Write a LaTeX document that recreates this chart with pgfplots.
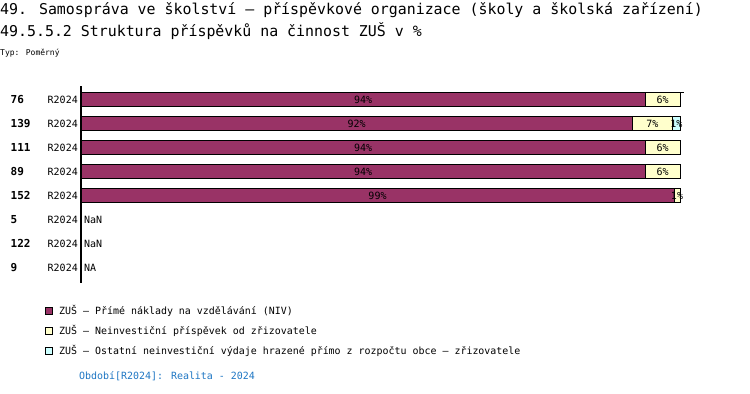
\documentclass[border=0pt]{standalone}
\usepackage{pgfplots}
\pgfplotsset{compat=1.18}
\usepackage{pgfplotstable}
\usepackage{fontspec}
\setmainfont{DejaVu Sans Mono}
\setmonofont{DejaVu Sans Mono}
\definecolor{cA}{HTML}{993366}
\definecolor{cB}{HTML}{FFFFCC}
\definecolor{cC}{HTML}{CCFFFF}
\definecolor{cBlue}{HTML}{1F77C4}

\pgfplotstableread{
y a b c
0 94.2 5.8 0
1 92.0 6.8 1.2
2 94.2 5.8 0
3 94.2 5.8 0
4 99.0 1.0 0
}\bars

\pgfplotstableread{
x y lab
47.1 0 94
97.1 0 6
46.0 1 92
95.4 1 7
99.4 1 1
47.1 2 94
97.1 2 6
47.1 3 94
97.1 3 6
49.5 4 99
99.5 4 1
}\labs

\pgfplotsset{myaxis/.style={
  scale only axis, width=603bp, height=197bp,
  at={(81bp,-283bp)}, anchor=south west,
  xmin=0, xmax=100.668, ymin=-0.5625, ymax=7.646, y dir=reverse,
}}

\begin{document}
\begin{tikzpicture}
\path[use as bounding box, fill=white] (0,0) rectangle (750bp,-394bp);
\node[anchor=base west, inner sep=0pt, font=\fontsize{14.9bp}{17bp}\selectfont] at (0bp,-14bp)
  {49. Samospráva ve školství – příspěvkové organizace (školy a školská zařízení)};
\node[anchor=base west, inner sep=0pt, font=\fontsize{14.9bp}{17bp}\selectfont] at (0bp,-36bp)
  {49.5.5.2 Struktura příspěvků na činnost ZUŠ v \%};
\node[anchor=base west, inner sep=0pt, font=\fontsize{8bp}{9bp}\selectfont] at (0bp,-55bp)
  {Typ: Poměrný};

\begin{axis}[myaxis,
  xbar stacked, bar width=14bp,
  axis x line=none,
  axis y line*=left,
  y axis line style={line width=2bp, -},
  ytick={0,...,7},
  yticklabels={
    {\makebox[37bp][l]{\bfseries\fontsize{11bp}{12bp}\selectfont 76}R2024},
    {\makebox[37bp][l]{\bfseries\fontsize{11bp}{12bp}\selectfont 139}R2024},
    {\makebox[37bp][l]{\bfseries\fontsize{11bp}{12bp}\selectfont 111}R2024},
    {\makebox[37bp][l]{\bfseries\fontsize{11bp}{12bp}\selectfont 89}R2024},
    {\makebox[37bp][l]{\bfseries\fontsize{11bp}{12bp}\selectfont 152}R2024},
    {\makebox[37bp][l]{\bfseries\fontsize{11bp}{12bp}\selectfont 5}R2024},
    {\makebox[37bp][l]{\bfseries\fontsize{11bp}{12bp}\selectfont 122}R2024},
    {\makebox[37bp][l]{\bfseries\fontsize{11bp}{12bp}\selectfont 9}R2024}},
  major tick length=0pt,
  yticklabel style={font=\fontsize{10bp}{12bp}\selectfont, inner sep=0pt, anchor=east, xshift=-3bp},
]
\addplot[fill=cA, draw=black, line width=1bp] table[x=a, y=y] {\bars};
\addplot[fill=cB, draw=black, line width=1bp] table[x=b, y=y] {\bars};
\addplot[fill=cC, draw=black, line width=1bp] table[x=c, y=y] {\bars};
\draw[line width=1bp] (axis cs:0,-0.3125) -- (axis cs:100.668,-0.3125);
\node[anchor=west, inner sep=0pt, font=\fontsize{10bp}{12bp}\selectfont] at (axis cs:0.5,5) {NaN};
\node[anchor=west, inner sep=0pt, font=\fontsize{10bp}{12bp}\selectfont] at (axis cs:0.5,6) {NaN};
\node[anchor=west, inner sep=0pt, font=\fontsize{10bp}{12bp}\selectfont] at (axis cs:0.5,7) {NA};
\end{axis}

\begin{axis}[myaxis, hide axis]
\addplot[draw=none, mark=none, nodes near coords={\pgfplotspointmeta\%},
  point meta=explicit symbolic,
  every node near coord/.append style={anchor=center, inner sep=0pt, font=\fontsize{10bp}{12bp}\selectfont, text=black}]
  table[x=x, y=y, meta=lab] {\labs};
\end{axis}

% legend
\begin{scope}[every node/.style={anchor=west, inner sep=0pt, font=\fontsize{9.95bp}{11bp}\selectfont}]
\draw[fill=cA, line width=0.8bp] (45.5bp,-307.5bp) rectangle (52.5bp,-314.5bp);
\node at (59bp,-311bp) {ZUŠ – Přímé náklady na vzdělávání (NIV)};
\draw[fill=cB, line width=0.8bp] (45.5bp,-327.5bp) rectangle (52.5bp,-334.5bp);
\node at (59bp,-331bp) {ZUŠ – Neinvestiční příspěvek od zřizovatele};
\draw[fill=cC, line width=0.8bp] (45.5bp,-347.5bp) rectangle (52.5bp,-354.5bp);
\node at (59bp,-351bp) {ZUŠ – Ostatní neinvestiční výdaje hrazené přímo z rozpočtu obce – zřizovatele};
\end{scope}

\node[anchor=west, inner sep=0pt, text=cBlue, font=\fontsize{9.95bp}{11bp}\selectfont] at (79bp,-376bp)
  {Období[R2024]: Realita - 2024};
\end{tikzpicture}
\end{document}
